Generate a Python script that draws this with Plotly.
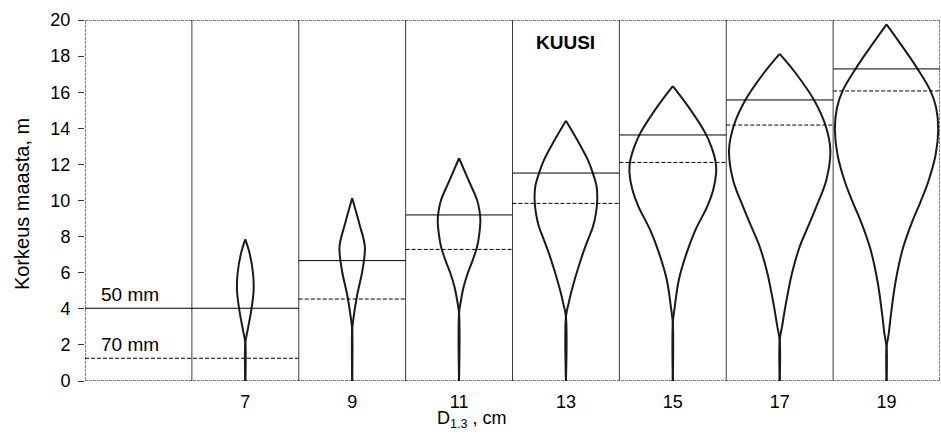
import plotly.graph_objects as go

# Breast-height diameter classes (cm) and the tip height of each stem (m)
diameters = [7, 9, 11, 13, 15, 17, 19]
tip_heights = [7.85, 10.12, 12.34, 14.42, 16.34, 18.12, 19.76]

# Heights where the stem reaches 50 mm and 70 mm top diameter (m)
height_50mm = [4.03, 6.67, 9.2, 11.52, 13.63, 15.57, 17.29]
height_70mm = [1.26, 4.54, 7.29, 9.84, 12.11, 14.18, 16.07]

# Spindle outline per class: heights (m) and half-widths (x units), base cusp -> below tip
prof_h_7 = [2.09, 2.83, 3.93, 5.04, 5.97, 7.07]
prof_w_7 = [0.0, 0.044, 0.112, 0.156, 0.144, 0.081]
prof_h_9 = [2.83, 3.38, 4.67, 6.15, 7.44, 8.74]
prof_w_9 = [0.0, 0.02, 0.087, 0.193, 0.237, 0.131]
prof_h_11 = [3.75, 4.49, 5.23, 5.97, 6.7, 7.44, 8.18, 8.92, 9.47, 10.03, 11.14]
prof_w_11 = [0.0, 0.037, 0.087, 0.162, 0.256, 0.337, 0.38, 0.399, 0.38, 0.337, 0.175]
prof_h_13 = [3.56, 4.3, 4.86, 5.6, 6.33, 7.07, 7.81, 8.55, 9.29, 10.03, 10.77, 11.5, 12.25, 13.35]
prof_w_13 = [0.0, 0.05, 0.094, 0.162, 0.237, 0.318, 0.41, 0.505, 0.561, 0.586, 0.574, 0.505, 0.41, 0.212]
prof_h_15 = [3.2, 4.12, 5.6, 7.07, 8.37, 9.66, 10.58, 11.5, 12.15, 12.98, 13.72, 15.2]
prof_w_15 = [0.0, 0.037, 0.112, 0.256, 0.424, 0.643, 0.755, 0.81, 0.8, 0.72, 0.611, 0.29]
prof_h_17 = [2.27, 3.01, 4.12, 5.97, 7.44, 8.55, 9.66, 11.14, 12.8, 14.18, 15.57, 17.05]
prof_w_17 = [0.0, 0.044, 0.106, 0.23, 0.374, 0.53, 0.686, 0.873, 0.948, 0.855, 0.642, 0.3]
prof_h_19 = [1.9, 2.55, 3.66, 5.5, 7.35, 8.83, 9.93, 11.04, 12.52, 13.9, 15.11, 16.07, 17.32, 18.43]
prof_w_19 = [0.0, 0.037, 0.081, 0.168, 0.306, 0.48, 0.636, 0.78, 0.917, 0.967, 0.93, 0.823, 0.574, 0.32]

profiles_h = [prof_h_7, prof_h_9, prof_h_11, prof_h_13, prof_h_15, prof_h_17, prof_h_19]
profiles_w = [prof_w_7, prof_w_9, prof_w_11, prof_w_13, prof_w_15, prof_w_17, prof_w_19]

y_ticks = list(range(0, 21, 2))
X_MIN, X_MAX = 4, 20
Y_MIN, Y_MAX = 0, 20

FONT = "Liberation Sans, Arial, sans-serif"

fig = go.Figure()

# Spindle outlines: each side runs from ground level up the stem to the tip
for d, top, hs, ws in zip(diameters, tip_heights, profiles_h, profiles_w):
    for sign in (-1, 1):
        xs = [d] + [d + sign * w for w in ws] + [d]
        ys = [0] + hs + [top]
        fig.add_trace(go.Scatter(
            x=xs, y=ys, mode="lines",
            line=dict(color="#1a1a1a", width=2, shape="spline", smoothing=1.0),
            hoverinfo="skip", showlegend=False,
        ))

shapes = []
# Cell separators between diameter classes
for d in diameters:
    shapes.append(dict(type="line", xref="x", yref="y", x0=d - 1, x1=d - 1,
                       y0=Y_MIN, y1=Y_MAX, line=dict(color="#3c3c3c", width=1)))

# 50 mm (solid) and 70 mm (dashed) height levels for each class
for i, d in enumerate(diameters):
    x0 = X_MIN if i == 0 else d - 1
    shapes.append(dict(type="line", xref="x", yref="y", x0=x0, x1=d + 1,
                       y0=height_50mm[i], y1=height_50mm[i],
                       line=dict(color="#000000", width=1)))
    shapes.append(dict(type="line", xref="x", yref="y", x0=x0, x1=d + 1,
                       y0=height_70mm[i], y1=height_70mm[i],
                       line=dict(color="#000000", width=1, dash="4px,2px")))

# Plot-area frame
shapes.append(dict(type="rect", xref="x", yref="y", x0=X_MIN, x1=X_MAX,
                   y0=Y_MIN, y1=Y_MAX,
                   line=dict(color="#000000", width=1, dash="3px,1px")))

annotations = [
    dict(text="<b>KUUSI</b>", x=13, y=18.78, xref="x", yref="y",
         showarrow=False, font=dict(family=FONT, size=19, color="#000")),
    dict(text="50 mm", x=4.27, y=4.8, xref="x", yref="y", xanchor="left",
         showarrow=False, font=dict(family=FONT, size=19, color="#000")),
    dict(text="70 mm", x=4.27, y=2.02, xref="x", yref="y", xanchor="left",
         showarrow=False, font=dict(family=FONT, size=19, color="#000")),
    dict(text="D<sub>1.3</sub> , cm", x=11.24, y=-0.108, xref="x", yref="paper",
         xanchor="center", yanchor="middle", showarrow=False,
         font=dict(family=FONT, size=18, color="#000")),
    dict(text="Korkeus maasta, m", x=-0.0737, y=0.49, xref="paper", yref="paper",
         xanchor="center", yanchor="middle", textangle=-90, showarrow=False,
         font=dict(family=FONT, size=20, color="#000")),
]

fig.update_layout(
    width=941, height=439,
    margin=dict(l=85, r=1, t=20, b=58),
    paper_bgcolor="white", plot_bgcolor="white",
    font=dict(family=FONT, size=18, color="#000"),
    shapes=shapes, annotations=annotations,
    showlegend=False,
    xaxis=dict(range=[X_MIN, X_MAX], tickvals=diameters,
               ticktext=[str(d) for d in diameters],
               showgrid=False, zeroline=False, showline=False, ticks="",
               ticklabelstandoff=8, tickfont=dict(family=FONT, size=18)),
    yaxis=dict(range=[Y_MIN, Y_MAX], tickvals=y_ticks,
               showgrid=False, zeroline=False, showline=False,
               ticks="outside", ticklen=6, tickcolor="#333", tickwidth=1,
               ticklabelstandoff=4, tickfont=dict(family=FONT, size=18)),
)

fig.write_html("out.html")
